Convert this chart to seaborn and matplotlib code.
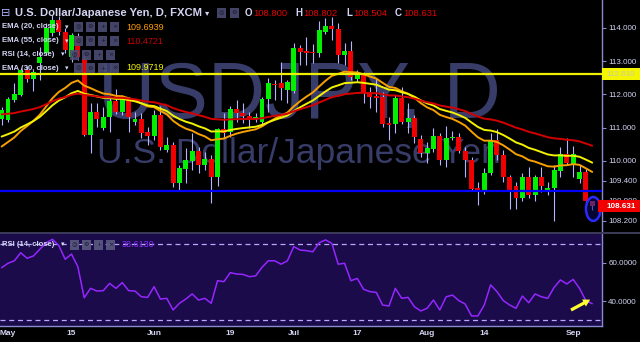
import numpy as np
import pandas as pd
import matplotlib
matplotlib.use("Agg")
import matplotlib.pyplot as plt
import seaborn as sns
from matplotlib.patches import Ellipse, Rectangle, FancyArrow
from matplotlib.transforms import IdentityTransform

# ---------------- data ----------------
dates = pd.bdate_range("2017-04-28", "2017-09-06")

opens = [111.26, 111.23, 111.83, 111.98, 112.74, 112.46, 112.95, 113.25, 113.85, 114.25,
         113.88, 113.13, 113.76, 113.10, 110.78, 111.47, 110.99, 111.32, 111.80, 111.47,
         111.86, 111.17, 111.26, 110.87, 110.75, 111.38, 110.33, 110.48, 109.33, 109.75,
         109.99, 110.30, 109.87, 110.05, 109.51, 110.96, 110.87, 111.56, 111.44, 111.35,
         111.29, 111.17, 111.86, 112.30, 112.34, 112.13, 112.10, 113.40, 113.31, 113.28,
         113.25, 113.88, 114.06, 113.97, 113.19, 113.31, 112.46, 112.58, 112.04, 111.95,
         111.92, 111.14, 111.11, 111.89, 111.17, 111.29, 110.66, 110.24, 110.36, 110.75,
         110.02, 110.69, 110.72, 110.30, 110.02, 109.18, 109.09, 109.63, 110.63, 110.18,
         109.51, 109.24, 108.88, 109.51, 108.97, 109.51, 109.09, 109.18, 109.69, 110.21,
         109.90, 109.45, 109.66, 108.800]
highs = [111.62, 111.92, 112.34, 112.80, 112.86, 112.74, 113.43, 114.15, 114.40, 114.36,
         114.00, 113.85, 113.85, 113.16, 111.74, 111.74, 111.62, 111.92, 112.16, 111.98,
         111.92, 111.47, 111.44, 111.02, 111.53, 111.65, 110.72, 110.57, 109.87, 110.39,
         110.84, 110.42, 110.27, 110.17, 110.99, 111.44, 111.65, 111.83, 111.74, 111.47,
         111.44, 111.92, 112.49, 112.43, 112.98, 112.43, 113.55, 113.49, 113.73, 113.52,
         114.21, 114.30, 114.33, 114.15, 113.55, 113.61, 112.74, 112.67, 112.22, 112.49,
         112.07, 111.32, 111.98, 112.22, 111.74, 111.38, 110.78, 110.57, 110.99, 110.84,
         111.05, 110.90, 110.84, 110.42, 110.11, 109.36, 109.78, 110.84, 110.96, 110.33,
         109.57, 109.36, 109.63, 109.81, 109.57, 109.81, 109.36, 109.87, 110.42, 110.69,
         110.45, 109.87, 109.75, 108.802]
lows = [111.08, 111.17, 111.77, 111.95, 112.37, 112.10, 112.43, 113.19, 113.75, 113.80,
        113.25, 112.98, 113.04, 110.75, 110.24, 111.02, 110.93, 110.87, 111.41, 111.38,
        110.87, 111.08, 110.69, 110.48, 110.63, 110.33, 110.27, 109.21, 109.09, 109.33,
        109.72, 109.63, 109.72, 108.73, 109.24, 110.69, 110.72, 111.17, 111.14, 110.99,
        111.17, 111.08, 111.47, 111.83, 111.83, 111.74, 112.04, 112.89, 112.89, 112.95,
        113.13, 113.82, 113.64, 112.95, 112.89, 112.43, 112.37, 111.74, 111.59, 111.47,
        111.02, 110.63, 110.84, 111.11, 110.84, 110.54, 110.11, 109.93, 110.27, 109.87,
        109.81, 110.63, 110.24, 109.51, 109.12, 108.67, 109.00, 109.57, 110.02, 109.36,
        108.55, 108.55, 108.79, 108.88, 108.79, 109.06, 108.97, 108.19, 109.51, 109.87,
        109.51, 109.33, 108.67, 108.504]
closes = [111.53, 111.86, 112.01, 112.74, 112.46, 112.68, 113.13, 114.00, 114.25, 113.88,
          113.34, 113.79, 113.13, 110.78, 111.47, 111.26, 111.32, 111.80, 111.47, 111.86,
          111.32, 111.26, 110.84, 110.75, 111.38, 110.42, 110.48, 109.33, 109.78, 110.02,
          110.30, 109.87, 110.05, 109.51, 110.96, 110.84, 111.56, 111.44, 111.35, 111.29,
          111.33, 111.86, 112.34, 112.28, 112.19, 112.37, 113.40, 113.28, 113.25, 113.25,
          113.94, 114.06, 113.97, 113.19, 113.31, 112.52, 112.58, 112.07, 111.92, 111.89,
          111.11, 111.08, 111.89, 111.17, 111.29, 110.72, 110.24, 110.39, 110.75, 110.02,
          110.69, 110.72, 110.30, 110.02, 109.15, 109.09, 109.63, 110.63, 110.18, 109.51,
          109.12, 108.88, 109.51, 108.97, 109.51, 109.24, 109.18, 109.72, 110.21, 109.93,
          110.21, 109.66, 108.79, 108.631]
rsi = [57.4, 59.7, 61.0, 65.2, 62.3, 63.5, 67.0, 70.4, 72.2, 69.0,
       61.8, 64.5, 57.9, 41.7, 46.6, 45.2, 45.4, 49.2, 46.6, 49.6,
       45.4, 45.2, 42.2, 41.9, 47.5, 41.0, 41.4, 35.3, 38.8, 41.0,
       43.7, 40.5, 41.4, 38.8, 50.6, 50.1, 54.8, 54.1, 53.9, 52.7,
       53.1, 57.6, 61.0, 61.0, 59.2, 61.0, 68.4, 66.6, 66.3, 65.7,
       70.4, 71.9, 70.1, 59.2, 59.7, 50.6, 51.8, 46.1, 44.9, 44.5,
       37.9, 37.4, 46.6, 41.4, 41.9, 37.0, 34.8, 36.2, 40.5, 35.3,
       42.2, 43.1, 40.2, 38.4, 32.2, 32.2, 37.9, 48.4, 44.9, 40.2,
       37.9, 36.2, 42.6, 39.1, 43.7, 42.2, 41.4, 47.1, 51.0, 48.9,
       51.3, 46.6, 40.2, 38.613]
# EMA values read at the first visible candle (seed of the indicator)
ema_periods = [20, 30, 55]
ema_seeds = [110.43, 110.73, 111.40]
ema_colors = ["#f7a000", "#f2f200", "#d40000"]

tick_dates = ["2017-05-01", "2017-05-15", "2017-06-01", "2017-06-19", "2017-07-03",
              "2017-07-17", "2017-08-01", "2017-08-14", "2017-09-01"]
tick_labels = ["May", "15", "Jun", "19", "Jul", "17", "Aug", "14", "Sep"]
price_ticks = [108.2, 108.8, 109.4, 110.0, 111.0, 112.0, 113.0, 114.0]
rsi_ticks = [40, 60]
hline_yellow = 112.61
hline_blue = 109.10

# ---------------- styling ----------------
sns.set_theme(style="dark")
plt.rcParams["font.family"] = ["Liberation Sans", "DejaVu Sans"]
FAM = ["Liberation Sans", "DejaVu Sans"]
LAV = "#d4d4f4"
AXC = "#8a8ad0"

W, H = 640, 342
fig = plt.figure(figsize=(6.4, 3.42), dpi=100, facecolor="black")

def fx(x):
    return x / W

def fy(y):
    return 1 - y / H

n = len(dates)
pos = np.arange(n)
df = pd.DataFrame({"pos": pos, "open": opens, "high": highs, "low": lows,
                   "close": closes, "rsi": rsi})
for p, s in zip(ema_periods, ema_seeds):
    a = 2.0 / (p + 1)
    vals = [s]
    for c in closes[1:]:
        vals.append(vals[-1] + a * (c - vals[-1]))
    df[f"ema{p}"] = vals

# pixel x = 1.65 + 6.35*pos
x0 = (0 - 1.65) / 6.35
x1 = (602 - 1.65) / 6.35
ymin = 114 - (232 - 28) / 33.2
ymax = 114 + 28 / 33.2

ax = fig.add_axes([0, fy(232), fx(602), 232 / H])
ax.set_facecolor("black")
ax.set_xlim(x0, x1)
ax.set_ylim(ymin, ymax)

# watermark
ax.text(0.498, 0.578, "USDJPY, D", transform=ax.transAxes, ha="center", va="center",
        fontsize=57, color="#383c68", family=FAM, zorder=0)
ax.text(0.497, 0.34, "U.S. Dollar/Japanese Yen", transform=ax.transAxes, ha="center",
        va="center", fontsize=25.5, color="#383c68", family=FAM, zorder=0)

# candles
up = df["close"] >= df["open"]
ax.vlines(df["pos"], df["low"], df["high"], color="#b4b4ff", lw=0.8, zorder=2)
body = (df["close"] - df["open"]).abs().clip(lower=0.035)
bottom = df[["open", "close"]].min(axis=1)
cols = np.where(up, "#00f000", "#f00000")
cols[-1] = "#e8406a"
ax.bar(df["pos"], body, bottom=bottom, width=0.78, color=cols, linewidth=0, zorder=3)

# EMA lines
for p, c in zip(ema_periods, ema_colors):
    sns.lineplot(data=df, x="pos", y=f"ema{p}", ax=ax, color=c, lw=1.4, zorder=4)

ax.axhline(hline_yellow, color="#eeee00", lw=1.6, zorder=5)
ax.axhline(hline_blue, color="#0000ff", lw=1.6, zorder=5)

# circle around last candle
ell = Ellipse((n - 1 + 0.17, 108.55), width=2.3, height=0.72, facecolor="#0a0a60",
              edgecolor="none", alpha=0.55, zorder=6)
ax.add_patch(ell)
ell2 = Ellipse((n - 1 + 0.17, 108.55), width=2.3, height=0.72, facecolor="none",
               edgecolor="#2a2aff", lw=1.8, zorder=7)
ax.add_patch(ell2)

ax.set_xlabel("")
ax.set_ylabel("")
ax.set_xticks([])
ax.yaxis.tick_right()
ax.set_yticks(price_ticks)
ax.set_yticklabels([f"{v:.3f}" for v in price_ticks], family=FAM)
ax.tick_params(axis="y", colors=AXC, labelcolor=LAV, labelsize=5.8, length=3,
               width=0.8, pad=1.5, right=True, left=False)
for s in ["top", "left", "bottom"]:
    ax.spines[s].set_visible(False)
ax.spines["right"].set_color(AXC)
ax.spines["right"].set_linewidth(1)
ax.grid(False)

# price scale highlights
fig.patches.append(Rectangle((fx(602), fy(80)), fx(38), 12 / H, transform=fig.transFigure,
                             facecolor="#f5f500", edgecolor="none", zorder=10))
fig.text(fx(606.5), fy(74), "112.610", fontsize=5.8, color="#c8c8b4", va="center",
         ha="left", family=FAM, zorder=11)
fig.patches.append(Rectangle((fx(598), fy(212)), fx(42), 12 / H, transform=fig.transFigure,
                             facecolor="#f00000", edgecolor="none", zorder=10))
fig.text(fx(606.5), fy(206), "108.631", fontsize=5.8, color="white", va="center",
         ha="left", family=FAM, fontweight="bold", zorder=11)

# ---------------- RSI pane ----------------
r_lo = 40 - (326 - 301) / 1.915
r_hi = 40 + (301 - 233) / 1.915
axr = fig.add_axes([0, fy(326), fx(602), 93 / H])
axr.set_facecolor("#1b0b4b")
axr.set_xlim(x0, x1)
axr.set_ylim(r_lo, r_hi)
axr.axhline(70, color="#b8a8ff", lw=0.9, ls=(0, (4, 3)), zorder=2)
axr.axhline(30, color="#b8a8ff", lw=0.9, ls=(0, (4, 3)), zorder=2)
sns.lineplot(data=df, x="pos", y="rsi", ax=axr, color="#9526ff", lw=1.1, zorder=3)
axr.set_xlabel("")
axr.set_ylabel("")
axr.yaxis.tick_right()
axr.set_yticks(rsi_ticks)
axr.set_yticklabels([f"{v:.4f}" for v in rsi_ticks], family=FAM)
axr.tick_params(axis="y", colors=AXC, labelcolor=LAV, labelsize=5.8, length=3,
                width=0.8, pad=1.5, right=True, left=False)
tpos = [int(np.where(dates == pd.Timestamp(d))[0][0]) for d in tick_dates]
axr.set_xticks(tpos)
axr.set_xticklabels(tick_labels, family=FAM, fontweight="bold")
axr.tick_params(axis="x", colors=AXC, labelcolor=LAV, labelsize=6, length=0, pad=3)
for s in ["top", "left"]:
    axr.spines[s].set_visible(False)
axr.spines["right"].set_color(AXC)
axr.spines["bottom"].set_color(AXC)
axr.spines["right"].set_linewidth(1)
axr.spines["bottom"].set_linewidth(1)
axr.grid(False)

# pane separator
fig.patches.append(Rectangle((0, fy(234)), fx(640), 2 / H, transform=fig.transFigure,
                             facecolor="#3a3a58", edgecolor="none", zorder=9))

# yellow arrow (display pixels, origin bottom-left)
arr = FancyArrow(571, H - 310, 13, 7, width=3.2, head_width=8, head_length=7,
                 length_includes_head=False, facecolor="#ffff30", edgecolor="none",
                 transform=IdentityTransform(), zorder=12)
fig.patches.append(arr)

# ---------------- legend texts ----------------
def box(x, y, w=9, h=10, col="#4c4c74"):
    fig.patches.append(Rectangle((fx(x), fy(y + h)), w / W, h / H,
                                 transform=fig.transFigure, facecolor=col,
                                 edgecolor="none", alpha=0.9, zorder=12))

def txt(x, y, s, **kw):
    kw.setdefault("family", FAM)
    kw.setdefault("va", "center")
    kw.setdefault("ha", "left")
    fig.text(fx(x), fy(y), s, zorder=13, **kw)

def sym(x, y, s):
    fig.text(fx(x), fy(y), s, fontsize=4.5, color="#15152a", family=["DejaVu Sans"],
             ha="center", va="center", zorder=13)

txt(1.5, 13, "⊟", fontsize=8, color="#aeb0ff", family=["DejaVu Sans"])
txt(15, 13, "U.S. Dollar/Japanese Yen, D, FXCM", fontsize=8.1, color=LAV, fontweight="bold")
txt(205, 13, "▾", fontsize=6, color=LAV, family=["DejaVu Sans"])
box(217, 8)
box(230, 8)
sym(221.5, 13, "◎")
sym(234.5, 13, "⚙")
for lab, lx, val, vx in [("O", 245, "108.800", 253), ("H", 295, "108.802", 303),
                         ("L", 346, "108.504", 353), ("C", 395, "108.631", 403)]:
    txt(lx, 13, lab, fontsize=7, color=LAV, fontweight="bold")
    txt(vx, 13, val, fontsize=6.8, color="#e40000")

rows = [("EMA (20, close)", 27, "109.6939", "#ff9c00", 74),
        ("EMA (55, close)", 41, "110.4721", "#c80000", 74),
        ("RSI (14, close)", 54.5, None, None, 70),
        ("EMA (30, close)", 68, "109.9719", "#f5f500", 74)]
syms = ["◎", "⚙", "+", "×"]
for lab, y, val, vc, bx in rows:
    txt(2, y, lab, fontsize=5.6, color=LAV, fontweight="bold")
    txt(bx - 9.5, y, "▾", fontsize=5, color=LAV, family=["DejaVu Sans"])
    for k in range(4):
        box(bx + 12 * k, y - 5)
        sym(bx + 12 * k + 4.5, y, syms[k])
    if val:
        txt(126, y, val, fontsize=6.5, color=vc)

# RSI legend
txt(2, 244.5, "RSI (14, close)", fontsize=5.6, color=LAV, fontweight="bold")
txt(60.5, 244.5, "▾", fontsize=5, color=LAV, family=["DejaVu Sans"])
for k in range(4):
    box(70 + 12 * k, 239.5, col="#5a5a80")
    sym(70 + 12 * k + 4.5, 244.5, syms[k])
txt(122, 244.5, "38.6130", fontsize=6.5, color="#8a2cff")

fig.savefig("out.png", dpi=100, facecolor="black")
